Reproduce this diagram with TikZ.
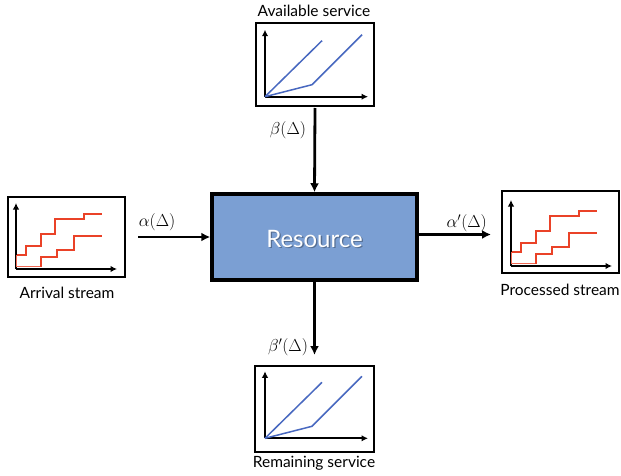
\documentclass[tikz,border=0pt]{standalone}
\usepackage{fontspec}
\setmainfont{Lato}
\usetikzlibrary{arrows.meta}
\definecolor{resfill}{RGB}{123,159,211}
\definecolor{blueline}{RGB}{72,104,192}
\definecolor{redline}{RGB}{234,66,40}
% service curve plot, origin placed by the enclosing scope
\newcommand{\servicecurve}{%
  \draw[axis] (0,0) -- (0,-67);
  \draw[axis] (0,0) -- (103,0);
  \draw[svc] (0,0) -- (57,-56);
  \draw[svc] (0,0) -- (47,-12) -- (97,-62);
}
% staircase plot of event streams
\newcommand{\streamcurve}{%
  \draw[axis] (0,0) -- (0,-66);
  \draw[axis] (0,0) -- (101,0);
  \draw[thinstairs] (24.7,-2.3) -- (0.7,-2.3) -- (0.7,-14);
  \draw[stairs] (0.7,-14) -- (10,-14) -- (10,-23) -- (24.7,-23) -- (24.7,-34.7)
     -- (39,-34.7) -- (39,-49.7) -- (68,-49.7) -- (68,-55) -- (85.7,-55);
  \draw[stairs] (24.7,-2.3) -- (24.7,-12.3) -- (41.3,-12.3) -- (41.3,-19)
     -- (58.3,-19) -- (58.3,-33.3) -- (86.3,-33.3);
}
\begin{document}
\begin{tikzpicture}[x=1pt,y=-1pt,
  frame/.style={draw=black,line width=2pt,fill=white,inner sep=0pt},
  axis/.style={line width=2pt,-{Latex[length=6.5pt,width=6.5pt]}},
  flow/.style={line width=2.8pt,-{Latex[length=9pt,width=9pt]}},
  svc/.style={draw=blueline,line width=1.5pt},
  stairs/.style={draw=redline,line width=2.2pt},
  thinstairs/.style={draw=redline!80,line width=1pt},
  caption/.style={font=\fontsize{15.5}{18}\selectfont,inner sep=0pt},
  mlabel/.style={font=\fontsize{17.5}{20}\selectfont,inner sep=0pt}]
\useasboundingbox (0,0) rectangle (621,476);

% central resource
\node[draw=black,line width=3.5pt,fill=resfill,minimum width=205pt,minimum height=86pt,inner sep=0pt] (res) at (314.5,237) {};
\node[font=\fontsize{24}{26}\selectfont,text=black,opacity=0.3] at (315.8,239.8) {Resource};
\node[font=\fontsize{24}{26}\selectfont,text=white] (restext) at (314.5,238.5) {Resource};

% plot boxes
\node[frame,minimum width=118pt,minimum height=83pt] (avail) at (315,64.5) {};
\node[frame,minimum width=119pt,minimum height=86pt] (remain) at (314.5,409) {};
\node[frame,minimum width=117pt,minimum height=80pt] (arrival) at (66.5,237) {};
\node[frame,minimum width=117pt,minimum height=82pt] (proc) at (560.5,232) {};

\begin{scope}[shift={(265,96.7)}]\servicecurve\end{scope}
\begin{scope}[shift={(265,438.3)}]\servicecurve\end{scope}
\begin{scope}[shift={(16,269)}]\streamcurve\end{scope}
\begin{scope}[shift={(511,266)}]\streamcurve\end{scope}

% captions
\node[caption] (availcap) at (314,11) {Available service};
\node[caption] (remcap) at (314,463) {Remaining service};
\node[caption] (arrcap) at (67,293) {Arrival stream};
\node[caption] (proccap) at (560,290) {Processed stream};

% flows
\coordinate (inend) at ([xshift=12pt]arrival.east);
\coordinate (outy) at (0,234.5);
\coordinate (outend) at ([xshift=-10pt]proc.west);
\coordinate (downend) at ([yshift=10pt]remain.north);
\draw[flow] ([yshift=-1pt]avail.south) -- (res.north);
\draw[flow] (inend) -- (res.west);
\draw[flow] (res.east |- outy) -- (outend |- outy);
\draw[flow] (res.south) -- (downend);

% curve labels
\node[mlabel] (beta) at (288,130) {$\beta(\Delta)$};
\node[mlabel] (alpha) at (157,221.7) {$\alpha(\Delta)$};
\node[mlabel] (alphap) at (466.7,223.3) {$\alpha'(\Delta)$};
\node[mlabel] (betap) at (288,347) {$\beta'(\Delta)$};
\end{tikzpicture}
\end{document}
